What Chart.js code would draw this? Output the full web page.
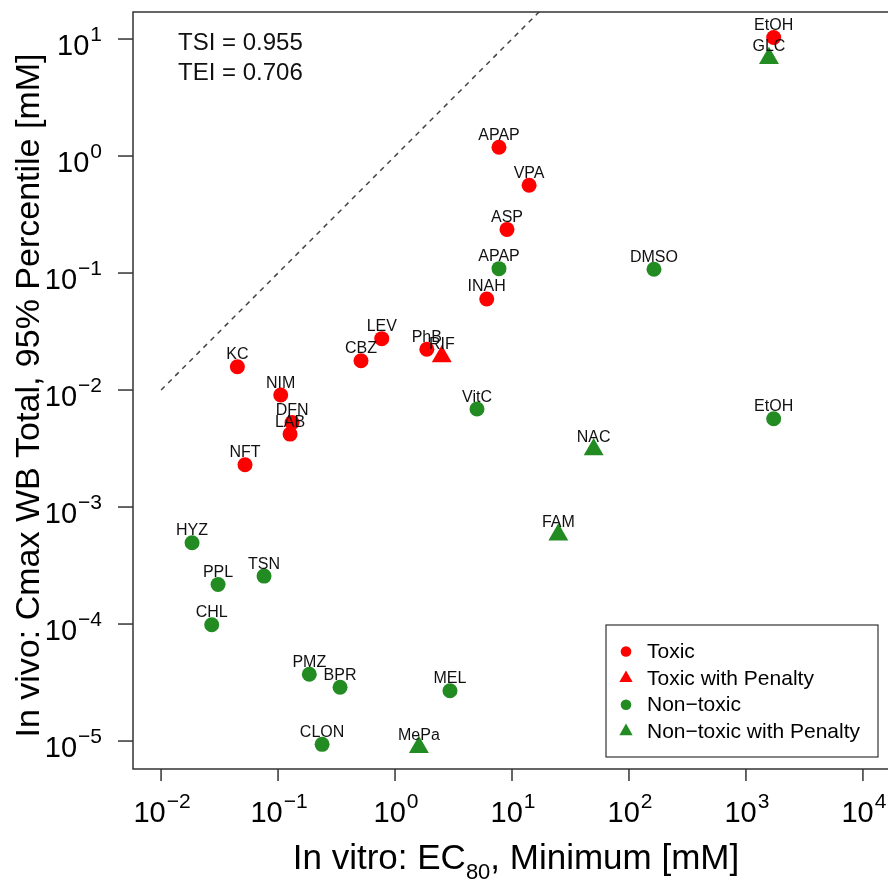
<!DOCTYPE html>
<html lang="en">
<head>
<meta charset="UTF-8">
<script src="https://cdn.jsdelivr.net/npm/chart.js@4"></script>
<title>In vitro EC80 vs in vivo Cmax</title>
<style>
  body { margin: 0; background: #fff; overflow: hidden; }
  #wrap { width: 888px; height: 881px; overflow: hidden; }
</style>
</head>
<body>
<div id="wrap"><canvas id="myChart" width="900" height="881"></canvas></div>
<script>
// EC80 minimum (mM) on x, Cmax WB total 95% percentile (mM) on y
var toxicNames = ['EtOH', 'APAP', 'VPA', 'ASP', 'INAH', 'KC', 'NIM', 'DFN', 'LAB', 'NFT', 'CBZ', 'LEV', 'PhB'];
var toxicEC80  = [1726, 7.74, 14.0, 9.06, 6.08, 0.0449, 0.1054, 0.1318, 0.1267, 0.0522, 0.512, 0.77, 1.87];
var toxicCmax  = [10.3, 1.19, 0.562, 0.236, 0.060, 0.0158, 0.00906, 0.00527, 0.0042, 0.0023, 0.0178, 0.0275, 0.0223];

var toxicPenNames = ['RIF'];
var toxicPenEC80  = [2.51];
var toxicPenCmax  = [0.0193];

var nontoxicNames = ['APAP', 'DMSO', 'VitC', 'EtOH', 'HYZ', 'PPL', 'TSN', 'CHL', 'PMZ', 'BPR', 'CLON', 'MEL'];
var nontoxicEC80  = [7.74, 163.6, 5.02, 1726, 0.0184, 0.0307, 0.0759, 0.0271, 0.185, 0.339, 0.238, 2.95];
var nontoxicCmax  = [0.109, 0.1076, 0.00688, 0.00569, 0.000495, 0.000218, 0.000257, 0.0000986, 0.0000372, 0.0000288, 0.00000937, 0.0000269];

var nontoxicPenNames = ['GLC', 'NAC', 'FAM', 'MePa'];
var nontoxicPenEC80  = [1573, 49.9, 24.9, 1.60];
var nontoxicPenCmax  = [6.84, 0.0031, 0.00058, 0.00000884];

// identity line y = x, starting at 10^-2
var diagX = [0.01, 1e4];

var xTickExps = [-2, -1, 0, 1, 2, 3, 4];
var yTickExps = [-5, -4, -3, -2, -1, 0, 1];
var statLines = ['TSI = 0.955', 'TEI = 0.706'];

var RED = '#ff0000';
var GREEN = '#228b22';
var FONT = '"Liberation Sans", Arial, sans-serif';

function pts(xs, ys) {
    return xs.map(function (x, i) { return { x: x, y: ys[i] }; });
}

var labelSets = [toxicNames, toxicPenNames, nontoxicNames, nontoxicPenNames];

// "10" with a raised exponent
function drawPower(ctx, exp, x, y, align) {
    var sup = exp < 0 ? '\u2212' + Math.abs(exp) : String(exp);
    ctx.font = '29px ' + FONT;
    var wb = ctx.measureText('10').width;
    ctx.font = '21px ' + FONT;
    var ws = ctx.measureText(sup).width;
    var total = wb + ws + 1;
    var left = align === 'center' ? x - total / 2 : x - total;
    ctx.textAlign = 'left';
    ctx.textBaseline = 'alphabetic';
    ctx.font = '29px ' + FONT;
    ctx.fillText('10', left, y);
    ctx.font = '21px ' + FONT;
    ctx.fillText(sup, left + wb + 1, y - 14);
}

var decorations = {
    id: 'decorations',
    afterDatasetsDraw: function (chart) {
        var ctx = chart.ctx;
        ctx.save();
        ctx.fillStyle = '#111';
        ctx.font = '16px ' + FONT;
        ctx.textAlign = 'center';
        ctx.textBaseline = 'alphabetic';
        labelSets.forEach(function (names, di) {
            chart.getDatasetMeta(di).data.forEach(function (el, j) {
                ctx.fillText(names[j], el.x, el.y - 7.5);
            });
        });
        ctx.font = '24px ' + FONT;
        ctx.textAlign = 'left';
        ctx.fillText(statLines[0], 178, 50);
        ctx.fillText(statLines[1], 178, 80);
        ctx.restore();
    },
    afterDraw: function (chart) {
        var ctx = chart.ctx;
        var a = chart.chartArea;
        var xs = chart.scales.x, ys = chart.scales.y;
        ctx.save();
        ctx.strokeStyle = '#333';
        ctx.fillStyle = '#000';
        ctx.lineWidth = 1.5;
        ctx.strokeRect(a.left, a.top, a.right - a.left, a.bottom - a.top);

        // x axis ticks and labels
        xTickExps.forEach(function (e) {
            var px = xs.getPixelForValue(Math.pow(10, e));
            ctx.beginPath();
            ctx.moveTo(px, a.bottom);
            ctx.lineTo(px, a.bottom + 12);
            ctx.stroke();
            drawPower(ctx, e, px + 1, a.bottom + 53, 'center');
        });
        // y axis ticks and labels
        yTickExps.forEach(function (e) {
            var py = ys.getPixelForValue(Math.pow(10, e));
            ctx.beginPath();
            ctx.moveTo(a.left - 15, py);
            ctx.lineTo(a.left, py);
            ctx.stroke();
            drawPower(ctx, e, 102, py + 16, 'right');
        });

        // x title with subscript
        var parts = [['In vitro: EC', 35, 0], ['80', 22, 10], [', Minimum [mM]', 35, 0]];
        var widths = parts.map(function (p) { ctx.font = p[1] + 'px ' + FONT; return ctx.measureText(p[0]).width; });
        var tw = widths.reduce(function (s, w) { return s + w; }, 0);
        var cx = 516 - tw / 2;
        ctx.textAlign = 'left';
        parts.forEach(function (p, i) {
            ctx.font = p[1] + 'px ' + FONT;
            ctx.fillText(p[0], cx, 869 + p[2]);
            cx += widths[i];
        });

        // y title
        ctx.save();
        ctx.translate(39, 395.5);
        ctx.rotate(-Math.PI / 2);
        ctx.textAlign = 'center';
        ctx.font = '34px ' + FONT;
        ctx.fillText('In vivo: Cmax WB Total, 95% Percentile [mM]', 0, 0);
        ctx.restore();

        // legend box
        ctx.lineWidth = 1.2;
        ctx.strokeRect(606, 625, 272, 132);
        var rows = [
            [RED, 'circle'],
            [RED, 'triangle'],
            [GREEN, 'circle'],
            [GREEN, 'triangle']
        ];
        ctx.font = '21px ' + FONT;
        ctx.textBaseline = 'middle';
        rows.forEach(function (r, i) {
            var y = 651.5 + i * 26.6;
            ctx.fillStyle = r[0];
            ctx.beginPath();
            if (r[1] === 'circle') {
                ctx.arc(626, y, 5.3, 0, Math.PI * 2);
            } else {
                var rr = 7.7;
                ctx.moveTo(626, y - rr);
                ctx.lineTo(626 + rr * 0.866, y + rr / 2);
                ctx.lineTo(626 - rr * 0.866, y + rr / 2);
                ctx.closePath();
            }
            ctx.fill();
            ctx.fillStyle = '#000';
            ctx.fillText(chart.data.datasets[i].label, 647, y + 1);
        });
        ctx.restore();
    }
};

var ctx = document.getElementById('myChart').getContext('2d');
var chart = new Chart(ctx, {
    type: 'scatter',
    data: {
        datasets: [{
            label: 'Toxic',
            data: pts(toxicEC80, toxicCmax),
            backgroundColor: RED,
            borderWidth: 0,
            pointStyle: 'circle',
            pointRadius: 7.5,
            order: 1
        }, {
            label: 'Toxic with Penalty',
            data: pts(toxicPenEC80, toxicPenCmax),
            backgroundColor: RED,
            borderWidth: 0,
            pointStyle: 'triangle',
            pointRadius: 11.5,
            order: 0
        }, {
            label: 'Non\u2212toxic',
            data: pts(nontoxicEC80, nontoxicCmax),
            backgroundColor: GREEN,
            borderWidth: 0,
            pointStyle: 'circle',
            pointRadius: 7.5,
            order: 1
        }, {
            label: 'Non\u2212toxic with Penalty',
            data: pts(nontoxicPenEC80, nontoxicPenCmax),
            backgroundColor: GREEN,
            borderWidth: 0,
            pointStyle: 'triangle',
            pointRadius: 11.5,
            order: 0
        }, {
            label: 'y = x',
            data: pts(diagX, diagX),
            showLine: true,
            pointRadius: 0,
            borderColor: '#444',
            borderWidth: 1.5,
            borderDash: [5, 5],
            order: 2
        }]
    },
    options: {
        responsive: false,
        animation: false,
        events: [],
        layout: { autoPadding: false, padding: { left: 133, right: 9, top: 12, bottom: 112 } },
        plugins: { legend: { display: false }, tooltip: { enabled: false } },
        scales: {
            x: { type: 'logarithmic', display: false, min: Math.pow(10, -2.24), max: Math.pow(10, 4.24) },
            y: { type: 'logarithmic', display: false, min: Math.pow(10, -5.239), max: Math.pow(10, 1.231) }
        }
    },
    plugins: [decorations]
});
</script>
</body>
</html>
